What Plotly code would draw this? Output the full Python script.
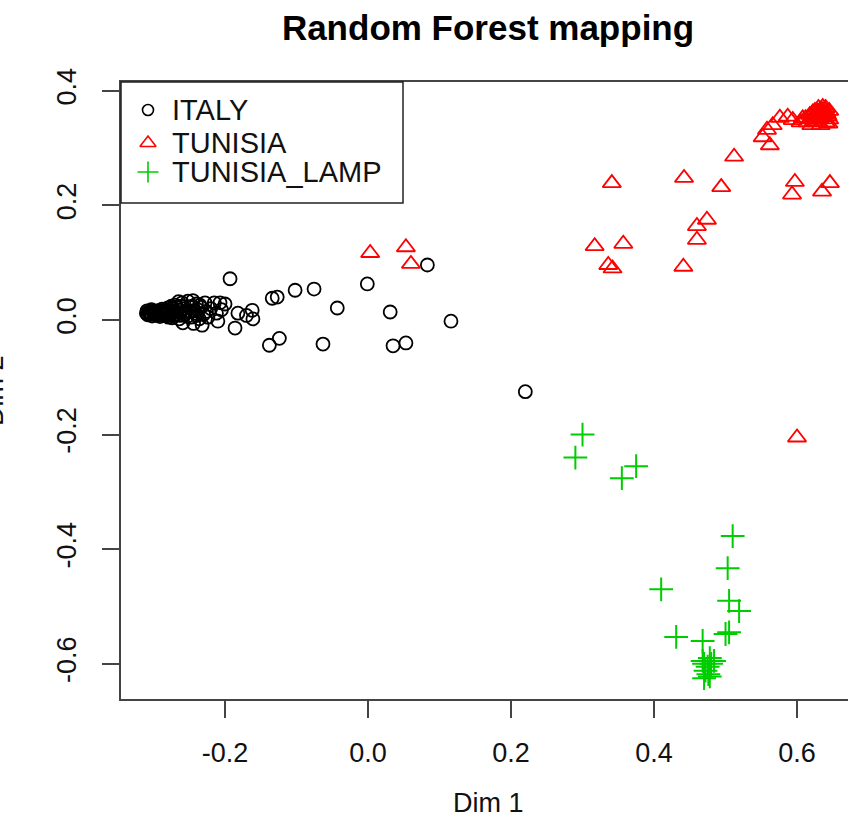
import plotly.graph_objects as go

# ---- data ----
italy_x = [-0.310, -0.309, -0.308, -0.306, -0.305, -0.303, -0.302, -0.300, -0.299, -0.298,
           -0.296, -0.295, -0.294, -0.292, -0.291, -0.290, -0.288, -0.287, -0.286, -0.284,
           -0.283, -0.282, -0.280, -0.279, -0.278, -0.276, -0.275, -0.274, -0.272, -0.270,
           -0.268, -0.266, -0.265, -0.264, -0.262, -0.260, -0.259, -0.258, -0.256, -0.254,
           -0.252, -0.250, -0.248, -0.246, -0.245, -0.244, -0.242, -0.240, -0.238, -0.236,
           -0.234, -0.232, -0.230, -0.228, -0.226, -0.224, -0.220, -0.215, -0.212, -0.210,
           -0.207, -0.205, -0.200,
           -0.307, -0.304, -0.301, -0.297, -0.293, -0.289, -0.285, -0.281, -0.277, -0.273,
           -0.269, -0.267, -0.263, -0.261, -0.257, -0.253, -0.249, -0.243, -0.239, -0.235,
           -0.193, -0.186, -0.182, -0.170, -0.162, -0.161, -0.134, -0.127, -0.138, -0.124,
           -0.102, -0.0755, -0.063, -0.043, -0.001, 0.031, 0.035, 0.053, 0.083, 0.116, 0.220]
italy_y = [0.012, 0.016, 0.009, 0.014, 0.011, 0.018, 0.007, 0.013, 0.016, 0.010,
           0.015, 0.008, 0.012, 0.017, 0.006, 0.014, 0.019, 0.010, 0.013, 0.008,
           0.016, 0.011, 0.021, 0.005, 0.014, 0.010, 0.024, 0.004, 0.015, 0.026,
           0.009, 0.018, 0.032, 0.002, 0.013, 0.030, -0.005, 0.020, 0.010, 0.016,
           0.033, 0.015, 0.005, 0.024, 0.034, -0.006, 0.012, 0.028, 0.018, 0.002,
           0.022, -0.009, 0.010, 0.030, 0.015, 0.005, 0.020, 0.030, 0.012, -0.002,
           0.030, 0.018, 0.028,
           0.013, 0.010, 0.015, 0.012, 0.009, 0.016, 0.012, 0.018, 0.008, 0.020,
           0.014, 0.022, 0.008, 0.024, 0.013, 0.006, 0.022, 0.017, 0.008, 0.026,
           0.072, -0.014, 0.012, 0.008, 0.017, 0.002, 0.038, 0.040, -0.044, -0.032,
           0.052, 0.054, -0.042, 0.021, 0.063, 0.014, -0.045, -0.040, 0.096, -0.002, -0.125]

tunisia_x = [0.003, 0.053, 0.060, 0.317, 0.357, 0.336, 0.342, 0.441, 0.341, 0.442,
             0.494, 0.512, 0.460, 0.474, 0.460, 0.597, 0.593, 0.635, 0.646, 0.600,
             0.552, 0.562, 0.558, 0.566, 0.576, 0.587, 0.594, 0.608, 0.605, 0.612,
             0.615, 0.620, 0.620, 0.625, 0.625, 0.628, 0.630, 0.630, 0.632, 0.633,
             0.635, 0.636, 0.638, 0.640, 0.640, 0.642, 0.645, 0.645,
             0.618, 0.622, 0.627, 0.631, 0.634, 0.637, 0.639, 0.641, 0.643, 0.629,
             0.624, 0.644]
tunisia_y = [0.117, 0.127, 0.098, 0.129, 0.133, 0.096, 0.090, 0.093, 0.239, 0.248,
             0.232, 0.285, 0.164, 0.175, 0.140, 0.241, 0.219, 0.224, 0.239, -0.205,
             0.319, 0.305, 0.332, 0.340, 0.353, 0.355, 0.349, 0.352, 0.345, 0.352,
             0.345, 0.350, 0.340, 0.355, 0.365, 0.345, 0.360, 0.370, 0.352, 0.340,
             0.365, 0.372, 0.360, 0.370, 0.345, 0.358, 0.350, 0.365,
             0.358, 0.362, 0.350, 0.356, 0.368, 0.354, 0.366, 0.362, 0.355, 0.364,
             0.347, 0.343]

lamp_x = [0.300, 0.290, 0.355, 0.375, 0.510, 0.503, 0.410, 0.505, 0.519, 0.431,
          0.500, 0.505, 0.468, 0.478, 0.470, 0.475, 0.480, 0.472, 0.476, 0.470,
          0.478, 0.484, 0.468]
lamp_y = [-0.200, -0.240, -0.276, -0.255, -0.377, -0.433, -0.470, -0.490, -0.508, -0.553,
          -0.548, -0.545, -0.560, -0.590, -0.600, -0.605, -0.600, -0.612, -0.618, -0.625,
          -0.622, -0.595, -0.595]

series_names = ["ITALY", "TUNISIA", "TUNISIA_LAMP"]
series_colors = ["black", "#FF0000", "#00CD00"]

x_ticks = [-0.2, 0.0, 0.2, 0.4, 0.6]
x_tick_text = ["-0.2", "0.0", "0.2", "0.4", "0.6"]
y_ticks = [-0.6, -0.4, -0.2, 0.0, 0.2, 0.4]
y_tick_text = ["-0.6", "-0.4", "-0.2", "0.0", "0.2", "0.4"]

FONT = "Liberation Sans, Arial, Helvetica, sans-serif"
W, H = 848, 818
L, R, T, B = 121, 848, 82, 699          # plot area in pixels
PW, PH = R - L, B - T

fig = go.Figure()
fig.add_trace(go.Scatter(x=italy_x, y=italy_y, mode="markers", name=series_names[0],
                         marker=dict(symbol="circle-open", size=13, color=series_colors[0],
                                     line=dict(width=1.8, color=series_colors[0]))))
fig.add_trace(go.Scatter(x=tunisia_x, y=tunisia_y, mode="markers", name=series_names[1],
                         marker=dict(symbol="triangle-up-open", size=16, color=series_colors[1],
                                     line=dict(width=1.8, color=series_colors[1]))))
fig.add_trace(go.Scatter(x=lamp_x, y=lamp_y, mode="markers", name=series_names[2],
                         marker=dict(symbol="cross-thin-open", size=17, color=series_colors[2],
                                     line=dict(width=2, color=series_colors[2]))))

# ---- legend (drawn in an overlay pixel-space axis) ----
leg_rows_px = [110, 143, 172]
leg_symbols = ["circle-open", "triangle-up-open", "cross-thin-open"]
leg_sizes = [11, 14, 15]
for name, col, sym, sz, ypx in zip(series_names, series_colors, leg_symbols, leg_sizes, leg_rows_px):
    fig.add_trace(go.Scatter(x=[148], y=[ypx], xaxis="x2", yaxis="y2", mode="markers",
                             showlegend=False, hoverinfo="skip", cliponaxis=False,
                             marker=dict(symbol=sym, size=sz, color=col,
                                         line=dict(width=1.6, color=col))))
    fig.add_annotation(text=name, xref="paper", yref="paper",
                       x=(170 - L) / PW, y=(B - ypx) / PH, xanchor="left", yanchor="middle",
                       showarrow=False, font=dict(size=29, family=FONT, color="#111"))
fig.add_shape(type="rect", xref="paper", yref="paper", x0=0, x1=(403 - L) / PW,
              y0=(B - 203) / PH, y1=1, line=dict(color="#222", width=1.5))

fig.update_layout(
    width=W, height=H,
    margin=dict(l=L, r=W - R, t=T, b=H - B),
    paper_bgcolor="white", plot_bgcolor="white",
    font=dict(family=FONT, color="black"),
    title=dict(text="<b>Random Forest mapping</b>", x=488 / W, xanchor="center",
               y=1 - 28 / H, yanchor="middle", font=dict(size=35, family=FONT, color="black")),
    showlegend=False,
    xaxis2=dict(overlaying="x", range=[L, R], visible=False),
    yaxis2=dict(overlaying="y", range=[B, T], visible=False),
    xaxis=dict(range=[-0.3455, 0.6713], tickvals=x_ticks, ticktext=x_tick_text,
               showgrid=False, zeroline=False, showline=True, mirror=True,
               linecolor="#444", linewidth=1.5, ticks="outside", ticklen=17,
               tickwidth=1.5, tickcolor="#444", ticklabelstandoff=12,
               tickfont=dict(size=27, family=FONT, color="#111")),
    yaxis=dict(range=[-0.6614, 0.4154], tickvals=y_ticks, ticktext=y_tick_text,
               showgrid=False, zeroline=False, showline=True, mirror=False,
               linecolor="#444", linewidth=1.5, ticks="outside", ticklen=17,
               tickwidth=1.5, tickcolor="#444", tickangle=-90, ticklabelstandoff=15,
               tickfont=dict(size=27, family=FONT, color="#111")),
)
fig.add_annotation(text="Dim 1", xref="paper", yref="paper", x=(488 - L) / PW, y=(B - 803) / PH,
                   xanchor="center", yanchor="middle", showarrow=False,
                   font=dict(size=27, family=FONT, color="#111"))
fig.add_annotation(text="Dim 2", xref="paper", yref="paper", x=(-6 - L) / PW, y=(B - 391) / PH,
                   xanchor="center", yanchor="middle", textangle=-90, showarrow=False,
                   font=dict(size=27, family=FONT, color="#111"))

fig.write_html("out.html")
